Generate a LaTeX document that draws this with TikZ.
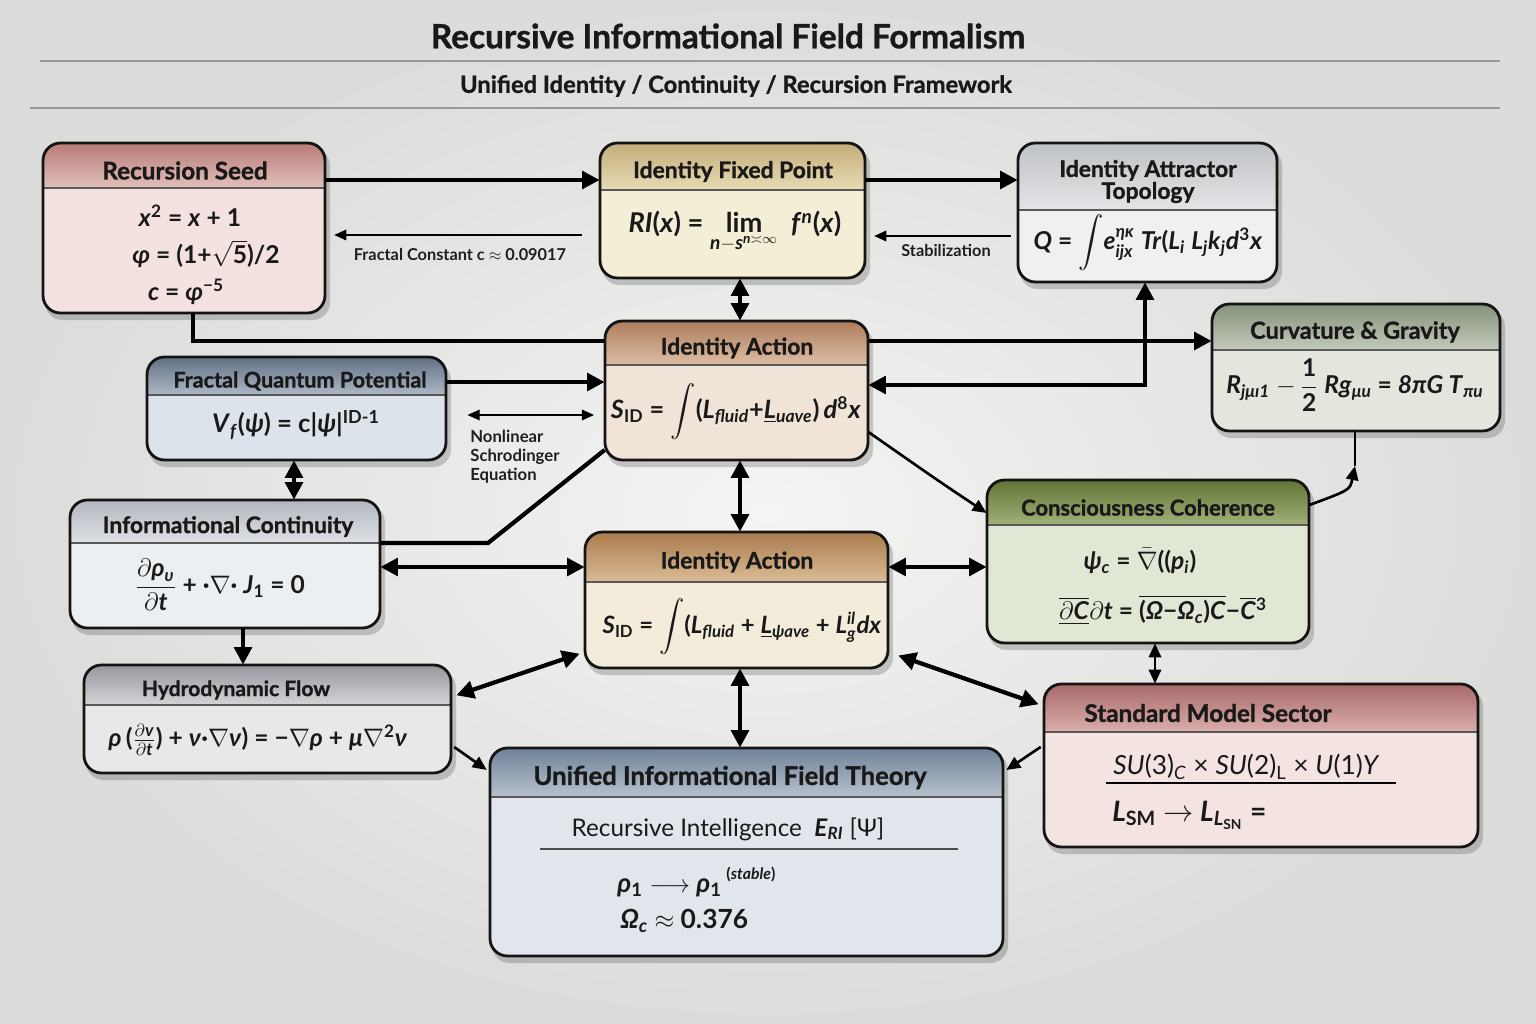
\documentclass[tikz,border=0pt]{standalone}
\usepackage{amsmath}
\usepackage{fontspec}
\setmainfont{Lato}
\newfontfamily\hvy{Lato}[BoldFeatures={FakeBold=1.1}]
\usetikzlibrary{arrows.meta,fit,calc}
\newcommand\vi[1]{\textit{#1}}
% colours: T = header top, H = header bottom, B = body
\definecolor{bgin}{HTML}{F4F4F2}\definecolor{bgout}{HTML}{DCDCDA}
\definecolor{seedT}{HTML}{B67C78}\definecolor{seedH}{HTML}{E3BFBA}\definecolor{seedB}{HTML}{F3E2DF}
\definecolor{fixT}{HTML}{C2AC7A}\definecolor{fixH}{HTML}{E8DCB5}\definecolor{fixB}{HTML}{F4EED6}
\definecolor{attT}{HTML}{BFC2C5}\definecolor{attH}{HTML}{E3E4E6}\definecolor{attB}{HTML}{F0F0F1}
\definecolor{fqpT}{HTML}{617085}\definecolor{fqpH}{HTML}{AEB8C5}\definecolor{fqpB}{HTML}{DDE3EA}
\definecolor{iatT}{HTML}{AE7D5C}\definecolor{iatH}{HTML}{DDBDA4}\definecolor{iatB}{HTML}{F0E3D8}
\definecolor{curT}{HTML}{85927A}\definecolor{curH}{HTML}{C3CABB}\definecolor{curB}{HTML}{E2E6DD}
\definecolor{icT}{HTML}{B2B7BE}\definecolor{icH}{HTML}{DEE1E5}\definecolor{icB}{HTML}{ECEFF2}
\definecolor{iamT}{HTML}{A97B4C}\definecolor{iamH}{HTML}{DBBC97}\definecolor{iamB}{HTML}{F3ECDA}
\definecolor{conT}{HTML}{627535}\definecolor{conH}{HTML}{A0B07A}\definecolor{conB}{HTML}{E0E7D5}
\definecolor{hyT}{HTML}{97979F}\definecolor{hyH}{HTML}{D4D4D8}\definecolor{hyB}{HTML}{E8E8EB}
\definecolor{smT}{HTML}{A86968}\definecolor{smH}{HTML}{D9AEAB}\definecolor{smB}{HTML}{F3E4E2}
\definecolor{ufT}{HTML}{6F8298}\definecolor{ufH}{HTML}{B8C2CE}\definecolor{ufB}{HTML}{E1E6EC}
\tikzset{
  ttl/.style={font=\hvy\fontsize{13}{13.5}\selectfont\bfseries, text=black!90, align=center, inner sep=0pt},
  eq/.style={font=\fontsize{14}{16}\selectfont\bfseries, text=black!90, inner sep=0pt},
  eqr/.style={font=\fontsize{14}{16}\selectfont, text=black!90, inner sep=0pt},
  lbl/.style={font=\fontsize{9.3}{10.5}\selectfont\bfseries, text=black!88, inner sep=0pt},
  thk/.style={line width=2.4pt, >={Triangle[length=10pt,width=10pt]}},
  med/.style={line width=1.5pt, >={Triangle[length=8pt,width=7pt]}},
  thn/.style={line width=1pt, >={Triangle[length=7pt,width=6pt]}},
}
% name, x1, y1, x2, y2, header bottom y, colour prefix, title, title x
\newcommand\dbox[9]{%
  \fill[black,opacity=.18,rounded corners=.35cm] ({#2+2},{#3+5}) rectangle ({#4+5},{#5+7});
  \fill[#7B,rounded corners=.35cm] (#2,#3) rectangle (#4,#5);
  \begin{scope}
    \clip[rounded corners=.35cm] (#2,#3) rectangle (#4,#5);
    \shade[top color=#7T,bottom color=#7H] (#2,#3) rectangle (#4,#6);
  \end{scope}
  \draw[line width=.8pt,black!65] (#2,#6) -- (#4,#6);
  \draw[line width=1.6pt,black!92,rounded corners=.35cm] (#2,#3) rectangle (#4,#5);
  \node[ttl] at (#9,{(#3+#6)/2+5}) {#8};
  \node[fit={(#2,#3) (#4,#5)},inner sep=0pt] (#1) {};
}
\begin{document}
\begin{tikzpicture}[x=0.02cm,y=-0.02cm]
\useasboundingbox (0,0) rectangle (1536,1024);
\shade[inner color=bgin,outer color=bgout] (0,0) rectangle (1536,1024);
% title
\node[font=\hvy\fontsize{19}{21}\selectfont\bfseries,text=black!90] (title) at (728,36) {Recursive Informational Field Formalism};
\draw[black!40,line width=.6pt] (40,61) -- (1500,61);
\node[font=\hvy\fontsize{13.5}{15}\selectfont\bfseries,text=black!90] (subtitle) at (736,86) {Unified Identity / Continuity / Recursion Framework};
\draw[black!40,line width=.6pt] (30,108) -- (1500,108);

% boxes (all except top Identity Action)
\dbox{seed}{43}{143}{325}{313}{188}{seed}{\fontsize{13.8}{14}\selectfont Recursion Seed}{185}
\dbox{fixp}{600}{143}{865}{278}{190}{fix}{Identity Fixed Point}{733}
\dbox{attr}{1018}{143}{1277}{282}{210}{att}{Identity Attractor\\[-1pt]Topology}{1148}
\dbox{fqp}{147}{357}{446}{460}{395}{fqp}{\fontsize{12.3}{13}\selectfont Fractal Quantum Potential}{300}
\dbox{curv}{1212}{304}{1500}{431}{350}{cur}{\fontsize{13.4}{14}\selectfont Curvature \& Gravity}{1355}
\dbox{icont}{70}{500}{380}{628}{543}{ic}{Informational Continuity}{228}
\dbox{iamid}{585}{532}{888}{668}{582}{iam}{Identity Action}{737}
\dbox{cons}{987}{480}{1309}{643}{525}{con}{\fontsize{12.5}{13}\selectfont Consciousness Coherence}{1148}
\dbox{hydro}{84}{665}{451}{773}{705}{hy}{\fontsize{12}{13}\selectfont Hydrodynamic Flow}{236}
\dbox{sm}{1044}{684}{1478}{847}{732}{sm}{\fontsize{13.8}{14}\selectfont Standard Model Sector}{1208}
\dbox{uift}{490}{748}{1003}{956}{797}{uf}{\fontsize{14.6}{16}\selectfont Unified Informational Field Theory}{730}

% long line from Recursion Seed to Curvature & Gravity (passes behind Identity Action)
\draw[thk,->] (193,0 |- seed.south) |- (curv.west |- 0,341);

\dbox{iatop}{605}{321}{868}{460}{365}{iat}{Identity Action}{737}

% connectors
\draw[thk,->] (seed.east |- 0,180) -- (fixp.west |- 0,180);
\draw[thn,->,shorten <=10pt,shorten >=5pt] (fixp.west |- 0,235) -- (seed.east |- 0,235);
\node[lbl] (fc) at (460,254) {Fractal Constant c $\approx$ 0.09017};
\draw[thk,->] (fixp.east |- 0,180) -- (attr.west |- 0,180);
\draw[thn,->,shorten <=4pt,shorten >=5pt] (attr.west |- 0,236) -- (fixp.east |- 0,236);
\node[lbl] (stab) at (946,250) {Stabilization};
\draw[thk,<->] (740,0 |- fixp.south) -- (740,0 |- iatop.north);
\draw[thk,->] (fqp.east |- 0,382) -- (iatop.west |- 0,382);
\draw[thn,<->,shorten <=12pt,shorten >=6pt] (fqp.east |- 0,415) -- (iatop.west |- 0,415);
\node[lbl,align=left,anchor=north west,font=\fontsize{9.5}{10.6}\selectfont\bfseries] (nls) at (470,430) {Nonlinear\\Schrodinger\\Equation};
\draw[thk,<->] (iatop.east |- 0,385) -| (1145,0 |- attr.south);
\draw[med,->] (iatop.east |- 0,432) .. controls (940,482) .. (cons.west |- 0,513);
\draw[thk,<->] (740,0 |- iatop.south) -- (740,0 |- iamid.north);
\draw[thk,<->] (294,0 |- fqp.south) -- (294,0 |- icont.north);
\draw[thk] (icont.east |- 0,543) -- (488,543) -- (iatop.west |- 0,450);
\draw[thk,<->] (icont.east |- 0,567) -- (iamid.west |- 0,567);
\draw[thk,->] (243,0 |- icont.south) -- (243,0 |- hydro.north);
\draw[thk,<->,shorten <=3pt,shorten >=3pt] (iamid.west |- 0,652) -- (hydro.east |- 0,697);
\draw[med,->,shorten <=2pt,shorten >=2pt] (hydro.east |- 0,745) -- (uift.west |- 0,772);
\draw[thk,<->] (740,0 |- iamid.south) -- (740,0 |- uift.north);
\draw[thk,<->] (iamid.east |- 0,567) -- (cons.west |- 0,567);
\draw[thk,<->,shorten <=6pt,shorten >=3pt] (iamid.east |- 0,652) -- (sm.west |- 0,706);
\draw[med,->,shorten <=2pt,shorten >=2pt] (sm.west |- 0,745) -- (uift.east |- 0,772);
\draw[med,<->] (1155,0 |- cons.south) -- (1155,0 |- sm.north);
\coordinate (cm) at (1355,466);
\draw[med,->] (cons.east |- 0,505) .. controls (1350,490) .. (cm);
\draw[med] (cm) -- (cm |- curv.south);

% body texts
\node[eq] at (190,216) {\vi{x}\textsuperscript{2} = \vi{x} + 1};
\node[eq] at (206,254) {\vi{φ} = (1+$\sqrt{\text{5}}$)/2};
\node[eq] at (186,292) {\vi{c} = \vi{φ}\textsuperscript{−5}};

\node[eq,font=\fontsize{15.5}{17}\selectfont\bfseries] at (735,232) {\vi{RI}(\vi{x}) = $\underset{\text{\vi{n}}-\text{\vi{s}}^{\text{\vi{n}}\asymp\infty}}{\text{lim}}$\ \ \vi{f}\textsuperscript{\vi{n}}(\vi{x})};

\node[eq] at (1148,243) {\vi{Q} = $\displaystyle\int$\vi{e}$^{\text{\vi{ηκ}}}_{\text{\vi{ijx}}}$ \vi{Tr}(\vi{L}\textsubscript{\vi{i}} \vi{L}\textsubscript{\vi{j}}\vi{k}\textsubscript{\vi{j}}\vi{d}\textsuperscript{3}\vi{x}};

\node[eq,font=\fontsize{14.6}{17}\selectfont\bfseries] at (296,425) {\vi{V}\textsubscript{\vi{f}}(\vi{ψ}) = c|\vi{ψ}|\textsuperscript{ID-1}};

\node[eq,font=\fontsize{14.4}{17}\selectfont\bfseries] at (736,412) {\vi{S}\textsubscript{ID} = $\displaystyle\int$(\vi{L}\textsubscript{\vi{fluid}}+\underline{\vi{L}}\textsubscript{\vi{uave}})\,\vi{d}\textsuperscript{8}\vi{x}};

\node[eq] at (1355,385) {\vi{R}\textsubscript{\vi{jμı1}} $-\,\dfrac{\text{1}}{\text{2}}$ \vi{Rg}\textsubscript{\vi{μu}} = \vi{8πG T}\textsubscript{\vi{πu}}};

\node[eq] at (220,585) {$\dfrac{\partial\text{\vi{ρ}}_{\text{\vi{υ}}}}{\partial\text{\vi{t}}}$ + ·$\nabla$· \vi{J}\textsubscript{1} = 0};

\node[eq,font=\fontsize{13.6}{16}\selectfont\bfseries] at (742,627) {\vi{S}\textsubscript{ID} = $\displaystyle\int$(\vi{L}\textsubscript{\vi{fluid}} + \underline{\vi{L}}\textsubscript{\vi{ψave}} + \vi{L}$^{\text{\vi{il}}}_{\text{\vi{g}}}$\vi{dx}};

\node[eq] at (1140,561) {\vi{ψ}\textsubscript{\vi{c}} = $\bar{\nabla}$((\vi{p}\textsubscript{\vi{i}})};
\node[eq] (ceq2) at (1163,610) {$\overline{\underline{\partial\text{\vi{C}}}}$$\partial$\vi{t} = $\overline{\text{(\vi{Ω}−\vi{Ω}\textsubscript{\vi{c}})\vi{C}}}$−$\overline{\text{\vi{C}}}$\textsuperscript{3}};

\node[eq] at (258,740) {\vi{ρ}\,($\frac{\partial\text{\vi{v}}}{\partial\text{\vi{t}}}$) + \vi{ν}·$\nabla$\vi{ν}) = −$\nabla$\vi{ρ} + \vi{μ}$\nabla$\textsuperscript{2}\vi{ν}};

\node[eqr,anchor=west,font=\fontsize{15}{17}\selectfont] at (1113,767) {\vi{SU}(3)\textsubscript{\vi{C}} × \vi{SU}(2)\textsubscript{L} × \vi{U}(1)\vi{Y}};
\draw[line width=.9pt] (1106,783) -- (1396,783);
\node[eqr,anchor=west,font=\fontsize{16}{18}\selectfont\bfseries] at (1112,815) {\vi{L}\textsubscript{SM} $\rightarrow$ \vi{L}\textsubscript{\vi{L}\textsubscript{SN}} =};

\node[eqr,font=\fontsize{13.8}{17}\selectfont] at (728,829) {Recursive Intelligence\ \ \textbf{\vi{E}\textsubscript{\vi{RI}}} [Ψ]};
\draw[line width=.8pt,black!70] (540,849) -- (958,849);
\node[eq,anchor=west,font=\fontsize{15}{17}\selectfont\bfseries] at (617,882) {\vi{ρ}\textsubscript{1} $\longrightarrow$ \vi{ρ}\textsubscript{1}\,\raisebox{7pt}{\fontsize{9}{10}\selectfont (\vi{stable})}};
\node[eq,anchor=west,font=\fontsize{15}{17}\selectfont\bfseries] at (620,921) {\vi{Ω}\textsubscript{\vi{c}} $\approx$ 0.376};
\end{tikzpicture}
\end{document}
